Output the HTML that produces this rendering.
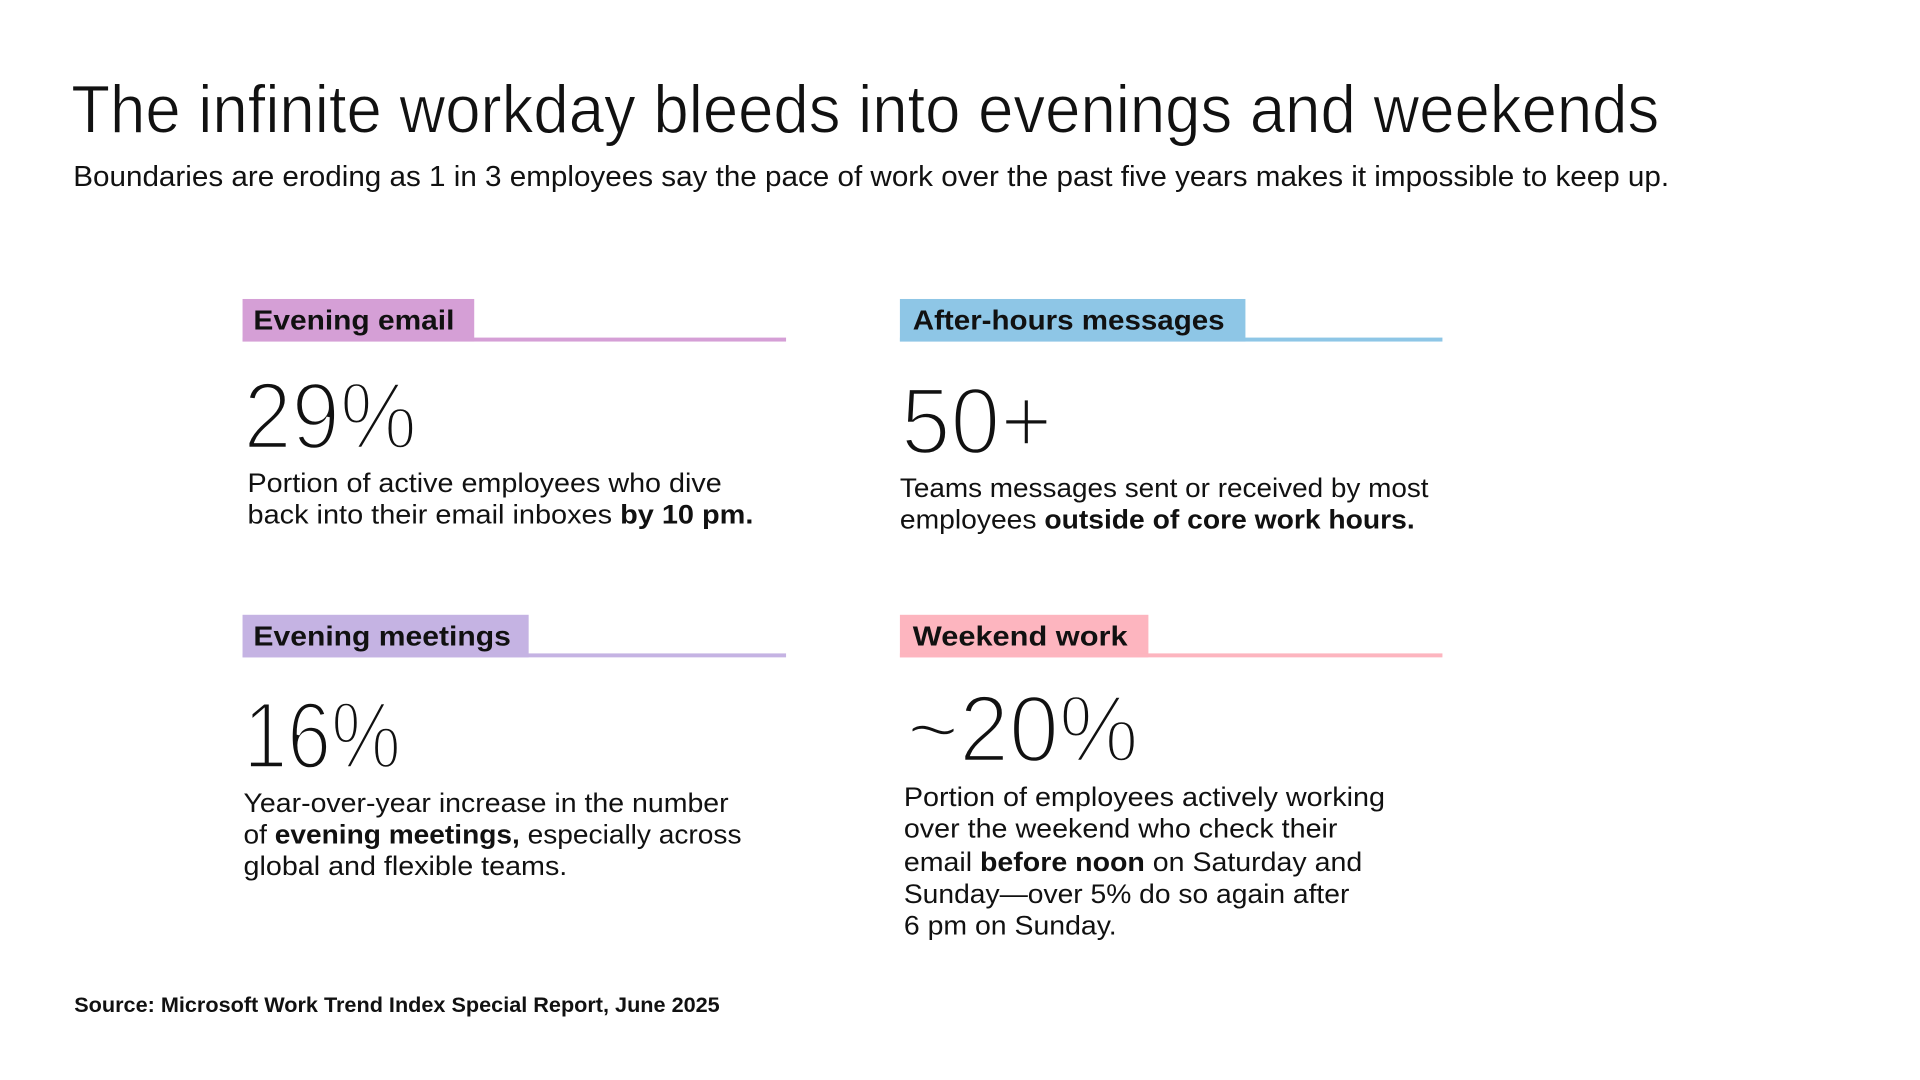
<!DOCTYPE html>
<html><head><meta charset="utf-8"><style>html,body{margin:0;padding:0;background:#fff}svg{display:block}</style></head>
<body>
<svg width="1920" height="1080" viewBox="0 0 1920 1080" xmlns="http://www.w3.org/2000/svg" font-family="'Liberation Sans', sans-serif" fill="#111">
<rect width="1920" height="1080" fill="#fff"/>
<g transform="scale(0.99)">
<text x="72" y="134" font-size="68" textLength="1604" lengthAdjust="spacingAndGlyphs" stroke="#fff" stroke-width="1">The infinite workday bleeds into evenings and weekends</text>
<text x="74" y="188" font-size="29" textLength="1612" lengthAdjust="spacingAndGlyphs">Boundaries are eroding as 1 in 3 employees say the pace of work over the past five years makes it impossible to keep up.</text>

<!-- Evening email -->
<rect x="245" y="302" width="234" height="43" fill="#d59fd6"/>
<rect x="245" y="341" width="549" height="4" fill="#d59fd6"/>
<text x="256" y="333" font-size="28" font-weight="bold" textLength="203" lengthAdjust="spacingAndGlyphs">Evening email</text>
<g stroke="#fff" stroke-width="3.5">
<text x="246" y="453" font-size="96" textLength="175" lengthAdjust="spacingAndGlyphs">29%</text>
<text x="910" y="458" font-size="96" textLength="153" lengthAdjust="spacingAndGlyphs">50+</text>
<text x="246" y="776" font-size="96" textLength="159" lengthAdjust="spacingAndGlyphs">16%</text>
<text x="916" y="769" font-size="96" textLength="234" lengthAdjust="spacingAndGlyphs">~20%</text>
</g>
<text x="250" y="497" font-size="27" textLength="479" lengthAdjust="spacingAndGlyphs">Portion of active employees who dive</text>
<text x="250" y="529" font-size="27" textLength="511" lengthAdjust="spacingAndGlyphs">back into their email inboxes <tspan font-weight="bold">by 10 pm.</tspan></text>

<!-- After-hours -->
<rect x="909" y="302" width="349" height="43" fill="#8ec6e6"/>
<rect x="909" y="341" width="548" height="4" fill="#8ec6e6"/>
<text x="922" y="333" font-size="28" font-weight="bold" textLength="315" lengthAdjust="spacingAndGlyphs">After-hours messages</text>
<text x="909" y="502" font-size="27" textLength="534" lengthAdjust="spacingAndGlyphs">Teams messages sent or received by most</text>
<text x="909" y="534" font-size="27" textLength="520" lengthAdjust="spacingAndGlyphs">employees <tspan font-weight="bold">outside of core work hours.</tspan></text>

<!-- Evening meetings -->
<rect x="245" y="621" width="289" height="43" fill="#c5b3e3"/>
<rect x="245" y="660" width="549" height="4" fill="#c5b3e3"/>
<text x="256" y="652" font-size="28" font-weight="bold" textLength="260" lengthAdjust="spacingAndGlyphs">Evening meetings</text>
<text x="246" y="820" font-size="27" textLength="490" lengthAdjust="spacingAndGlyphs">Year-over-year increase in the number</text>
<text x="246" y="852" font-size="27" textLength="503" lengthAdjust="spacingAndGlyphs">of <tspan font-weight="bold">evening meetings,</tspan> especially across</text>
<text x="246" y="884" font-size="27" textLength="327" lengthAdjust="spacingAndGlyphs">global and flexible teams.</text>

<!-- Weekend work -->
<rect x="909" y="621" width="251" height="43" fill="#fdb5bf"/>
<rect x="909" y="660" width="548" height="4" fill="#fdb5bf"/>
<text x="922" y="652" font-size="28" font-weight="bold" textLength="217" lengthAdjust="spacingAndGlyphs">Weekend work</text>
<text x="913" y="814" font-size="27" textLength="486" lengthAdjust="spacingAndGlyphs">Portion of employees actively working</text>
<text x="913" y="846" font-size="27" textLength="438" lengthAdjust="spacingAndGlyphs">over the weekend who check their</text>
<text x="913" y="880" font-size="27" textLength="463" lengthAdjust="spacingAndGlyphs">email <tspan font-weight="bold">before noon</tspan> on Saturday and</text>
<text x="913" y="912" font-size="27" textLength="450" lengthAdjust="spacingAndGlyphs">Sunday—over 5% do so again after</text>
<text x="913" y="944" font-size="27" textLength="215" lengthAdjust="spacingAndGlyphs">6 pm on Sunday.</text>

<text x="75" y="1022" font-size="21" font-weight="bold" textLength="652" lengthAdjust="spacingAndGlyphs">Source: Microsoft Work Trend Index Special Report, June 2025</text>
</g>
</svg>
</body></html>
